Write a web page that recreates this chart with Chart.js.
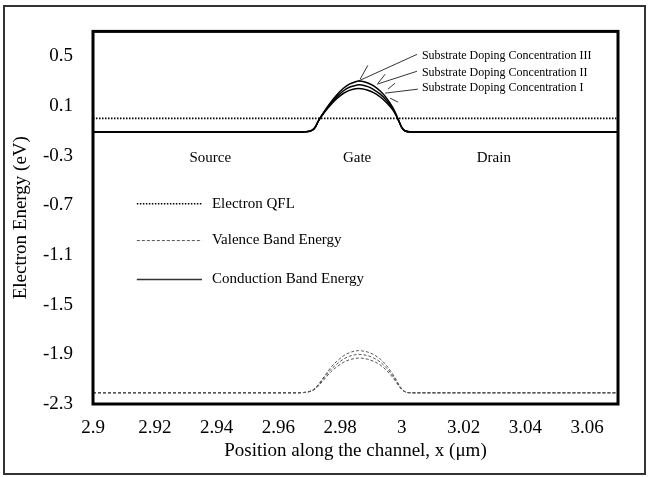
<!DOCTYPE html>
<html>
<head>
<meta charset="utf-8">
<title>Band diagram</title>
<script src="https://cdn.jsdelivr.net/npm/chart.js@4.4.1/dist/chart.umd.min.js"></script>
<style>
    html, body { margin: 0; padding: 0; background: #fff; }
    #wrap { width: 649px; height: 477px; }
</style>
</head>
<body>
<div id="wrap"><canvas id="bandChart" width="649" height="477"></canvas></div>
<script>
const FONT = '"Liberation Serif", "Times New Roman", serif';

// posiciones a lo largo del canal (um)
const xPos = [2.9, 2.965, 2.969, 2.971, 2.972, 2.973, 2.975, 2.977, 2.979, 2.981, 2.983, 2.985, 2.986,
              2.987, 2.989, 2.991, 2.993, 2.995, 2.997, 2.998, 2.999, 3.0, 3.001, 3.003, 3.07];

// banda de conduccion (eV) para cada dopaje
const condIII = [-0.11, -0.11, -0.108, -0.095, -0.07, -0.02, 0.06, 0.13, 0.19, 0.24, 0.275, 0.295, 0.30,
                 0.298, 0.285, 0.26, 0.22, 0.165, 0.09, 0.04, -0.02, -0.075, -0.10, -0.11, -0.11];
const condII  = [-0.11, -0.11, -0.108, -0.095, -0.07, -0.02, 0.055, 0.12, 0.175, 0.22, 0.25, 0.265, 0.27,
                 0.268, 0.255, 0.23, 0.195, 0.145, 0.08, 0.035, -0.02, -0.075, -0.10, -0.11, -0.11];
const condI   = [-0.11, -0.11, -0.108, -0.095, -0.07, -0.02, 0.05, 0.11, 0.16, 0.20, 0.225, 0.238, 0.24,
                 0.238, 0.226, 0.205, 0.172, 0.128, 0.07, 0.03, -0.02, -0.075, -0.10, -0.11, -0.11];

// banda de valencia (eV)
const valIII = [-2.21, -2.21, -2.205, -2.19, -2.17, -2.142, -2.074, -2.006, -1.955, -1.914, -1.887, -1.873, -1.87,
                -1.872, -1.882, -1.904, -1.938, -1.989, -2.057, -2.098, -2.142, -2.179, -2.2, -2.21, -2.21];
const valII  = [-2.21, -2.21, -2.205, -2.191, -2.174, -2.148, -2.086, -2.024, -1.978, -1.94, -1.916, -1.903, -1.90,
                -1.902, -1.911, -1.931, -1.962, -2.009, -2.07, -2.108, -2.148, -2.182, -2.201, -2.21, -2.21];
const valI   = [-2.21, -2.21, -2.206, -2.193, -2.178, -2.154, -2.098, -2.042, -2.0, -1.966, -1.944, -1.933, -1.93,
                -1.931, -1.94, -1.958, -1.986, -2.028, -2.084, -2.118, -2.154, -2.185, -2.202, -2.21, -2.21];

// cuasi-nivel de Fermi de electrones
const qflX = [2.9, 3.07];
const qflE = [0.0, 0.0];

const xTicks = [2.9, 2.92, 2.94, 2.96, 2.98, 3.0, 3.02, 3.04, 3.06];
const yTicks = [-2.3, -1.9, -1.5, -1.1, -0.7, -0.3, 0.1, 0.5];

const regionNames = ['Source', 'Gate', 'Drain'];
const legendNames = ['Electron QFL', 'Valence Band Energy', 'Conduction Band Energy'];
const dopingNames = ['Substrate Doping Concentration III', 'Substrate Doping Concentration II', 'Substrate Doping Concentration I'];

function pts(xs, ys) {
    return xs.map((x, i) => ({ x, y: ys[i] }));
}

const solid = { borderColor: '#000', borderWidth: 1.5, borderDash: [] };
const dashed = { borderColor: '#555', borderWidth: 1, borderDash: [3, 2] };
const dotted = { borderColor: '#000', borderWidth: 1.6, borderDash: [1.5, 1.5] };

function lineStyle(ctx, s) {
    ctx.strokeStyle = s.borderColor;
    ctx.lineWidth = s.borderWidth;
    ctx.setLineDash(s.borderDash);
}

// marco exterior y borde del area de trazado
const framePlugin = {
    id: 'frame',
    beforeDraw(chart) {
        const ctx = chart.ctx;
        ctx.save();
        ctx.fillStyle = '#fff';
        ctx.fillRect(0, 0, chart.width, chart.height);
        ctx.strokeStyle = '#333';
        ctx.lineWidth = 2;
        ctx.strokeRect(4, 6, chart.width - 8, chart.height - 9);
        ctx.restore();
    },
    afterDatasetsDraw(chart) {
        const { ctx, chartArea: a } = chart;
        ctx.save();
        ctx.strokeStyle = '#000';
        ctx.lineWidth = 3;
        ctx.strokeRect(a.left, a.top, a.right - a.left, a.bottom - a.top);
        ctx.restore();
    }
};

// textos dentro del grafico: regiones, leyenda y etiquetas de dopaje
const notesPlugin = {
    id: 'notes',
    afterDraw(chart) {
        const { ctx, scales: { x, y } } = chart;
        const px = v => x.getPixelForValue(v);
        const py = v => y.getPixelForValue(v);
        ctx.save();
        ctx.fillStyle = '#000';
        ctx.textBaseline = 'middle';

        ctx.font = '15px ' + FONT;
        ctx.textAlign = 'center';
        const regionX = [2.938, 2.9855, 3.0298];
        regionNames.forEach((t, i) => ctx.fillText(t, px(regionX[i]), py(-0.32)));

        // leyenda manual
        const legY = [-0.688, -0.984, -1.297];
        const legStyle = [dotted, dashed, { borderColor: '#333', borderWidth: 1.5, borderDash: [] }];
        ctx.textAlign = 'left';
        legendNames.forEach((t, i) => {
            lineStyle(ctx, legStyle[i]);
            ctx.beginPath();
            ctx.moveTo(px(2.9142), py(legY[i]));
            ctx.lineTo(px(2.9353), py(legY[i]));
            ctx.stroke();
            ctx.fillText(t, px(2.9385), py(legY[i]));
        });

        // lineas guia hacia las curvas
        ctx.setLineDash([]);
        ctx.strokeStyle = '#000';
        ctx.lineWidth = 0.8;
        const leaders = [
            [3.0049, 0.515, 2.9858, 0.299],
            [3.0049, 0.379, 2.9920, 0.275],
            [3.0052, 0.235, 2.9946, 0.203],
            [2.9890, 0.427, 2.9865, 0.315],
            [2.9946, 0.355, 2.9923, 0.283],
            [2.9978, 0.283, 2.9955, 0.235],
            [2.9988, 0.130, 2.9962, 0.163]
        ];
        leaders.forEach(l => {
            ctx.beginPath();
            ctx.moveTo(px(l[0]), py(l[1]));
            ctx.lineTo(px(l[2]), py(l[3]));
            ctx.stroke();
        });

        ctx.font = '12px ' + FONT;
        const dopY = [0.50, 0.363, 0.243];
        dopingNames.forEach((t, i) => ctx.fillText(t, px(3.0065), py(dopY[i])));
        ctx.restore();
    }
};

const datasets = [
    { data: pts(qflX, qflE), ...dotted },
    { data: pts(xPos, valI), ...dashed },
    { data: pts(xPos, valII), ...dashed },
    { data: pts(xPos, valIII), ...dashed },
    { data: pts(xPos, condI), ...solid },
    { data: pts(xPos, condII), ...solid },
    { data: pts(xPos, condIII), ...solid }
].map(d => ({ ...d, showLine: true, pointRadius: 0, cubicInterpolationMode: 'monotone', fill: false }));

new Chart(document.getElementById('bandChart'), {
    type: 'scatter',
    data: { datasets },
    options: {
        responsive: false,
        animation: false,
        devicePixelRatio: 1,
        layout: { padding: { top: 30, right: 31, left: 0, bottom: 0 } },
        plugins: { legend: { display: false }, tooltip: { enabled: false } },
        scales: {
            x: {
                type: 'linear',
                min: 2.9,
                max: 3.07,
                grid: { display: false, drawTicks: false },
                border: { display: false },
                afterBuildTicks: s => { s.ticks = xTicks.map(v => ({ value: v })); },
                afterFit: s => { s.height = 73; },
                ticks: {
                    padding: 13,
                    color: '#000',
                    font: { family: FONT, size: 19 },
                    callback: v => String(+v.toFixed(2))
                },
                title: {
                    display: true,
                    text: 'Position along the channel, x (μm)',
                    color: '#000',
                    font: { family: FONT, size: 19 },
                    padding: { top: 0, bottom: 15 }
                }
            },
            y: {
                min: -2.3,
                max: 0.7,
                grid: { display: false, drawTicks: false },
                border: { display: false },
                afterBuildTicks: s => { s.ticks = yTicks.map(v => ({ value: v })); },
                afterFit: s => { s.width = 93; },
                ticks: {
                    padding: 20,
                    color: '#000',
                    font: { family: FONT, size: 19 },
                    callback: v => v.toFixed(1)
                },
                title: {
                    display: true,
                    text: 'Electron Energy (eV)',
                    color: '#000',
                    font: { family: FONT, size: 19 },
                    padding: { top: 10, bottom: 0 }
                }
            }
        }
    },
    plugins: [framePlugin, notesPlugin]
});
</script>
</body>
</html>
